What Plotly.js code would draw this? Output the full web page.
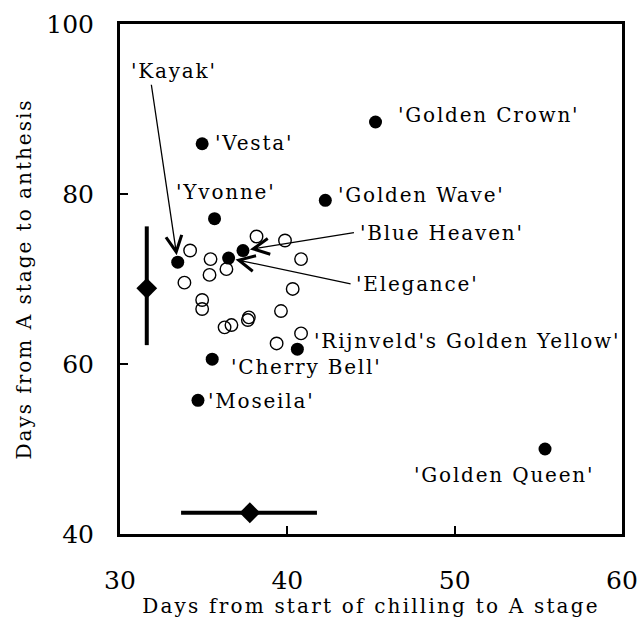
<!DOCTYPE html>
<html>
<head>
<meta charset="utf-8">
<script src="https://cdn.plot.ly/plotly-3.0.1.min.js"></script>
<style>
  html, body { margin: 0; padding: 0; background: #fff; }
  #chart { width: 641px; height: 618px; }
  .annotation-text { letter-spacing: 1.8px; }
  .xtitle { letter-spacing: 2.2px; }
  .ytitle { letter-spacing: 2px; }
</style>
</head>
<body>
<div id="chart"></div>
<script>
// Named cultivars (filled circles)
const namedCultivars = ['Kayak', 'Vesta', 'Golden Crown', 'Yvonne', 'Golden Wave', 'Blue Heaven', 'Elegance', "Rijnveld's Golden Yellow", 'Cherry Bell', 'Moseila', 'Golden Queen'];
const namedDaysToA = [33.45, 34.91, 45.27, 35.65, 42.27, 37.35, 36.49, 40.60, 35.51, 34.66, 55.40];
const namedDaysToAnthesis = [71.98, 85.91, 88.47, 77.10, 79.26, 73.35, 72.46, 61.75, 60.57, 55.73, 50.00];

// Other cultivars (open circles)
const otherDaysToA = [34.19, 35.41, 35.35, 36.36, 33.85, 38.16, 39.86, 40.82, 40.32, 34.91, 34.91, 39.62, 37.70, 37.64, 36.66, 36.25, 40.82, 39.36];
const otherDaysToAnthesis = [73.35, 72.34, 70.48, 71.16, 69.57, 75.00, 74.53, 72.34, 68.83, 67.53, 66.47, 66.23, 65.49, 65.17, 64.58, 64.31, 63.60, 62.42];

// Means with spread
const meanDaysToA = 37.76, meanDaysToAMinus = 4.11, meanDaysToAPlus = 4.01;
const meanDaysToAnthesis = 68.9, meanAnthesisMinus = 6.68, meanAnthesisPlus = 7.29;
const meanMarkerDaysToA = 31.6;        // x position of the vertical mean bar
const meanMarkerAnthesis = 42.5;       // y position of the horizontal mean bar

const xTicks = [30, 40, 50, 60];
const yTicks = [40, 60, 80, 100];
const xTitle = 'Days from start of chilling to A stage';
const yTitle = 'Days from A stage to anthesis';

const FONT = 'DejaVu Serif, Liberation Serif, serif';

const traces = [
  {
    type: 'scatter', mode: 'markers',
    x: otherDaysToA, y: otherDaysToAnthesis,
    marker: { symbol: 'circle-open', size: 12.5, color: '#000', line: { width: 1.4, color: '#000' } },
    hoverinfo: 'x+y'
  },
  {
    type: 'scatter', mode: 'markers',
    x: namedDaysToA, y: namedDaysToAnthesis, text: namedCultivars,
    marker: { symbol: 'circle', size: 13, color: '#000' },
    hoverinfo: 'text+x+y'
  },
  {
    type: 'scatter', mode: 'markers',
    x: [meanMarkerDaysToA], y: [meanDaysToAnthesis],
    error_y: { type: 'data', symmetric: false, array: [meanAnthesisPlus], arrayminus: [meanAnthesisMinus], thickness: 4, width: 0, color: '#000' },
    marker: { symbol: 'diamond', size: 16, color: '#000' }
  },
  {
    type: 'scatter', mode: 'markers',
    x: [meanDaysToA], y: [meanMarkerAnthesis],
    error_x: { type: 'data', symmetric: false, array: [meanDaysToAPlus], arrayminus: [meanDaysToAMinus], thickness: 4, width: 0, color: '#000' },
    marker: { symbol: 'diamond', size: 16, color: '#000' }
  }
];

// label placement (left edge, vertical middle) for each named cultivar
const labelSpots = {
  'Kayak': [30.54, 94.5],
  'Vesta': [35.55, 86.05],
  'Golden Crown': [46.5, 89.25],
  'Yvonne': [33.2, 80.2],
  'Golden Wave': [42.9, 79.9],
  'Blue Heaven': [44.2, 75.45],
  'Elegance': [44.0, 69.4],
  "Rijnveld's Golden Yellow": [41.5, 62.7],
  'Cherry Bell': [36.5, 59.6],
  'Moseila': [35.15, 55.7],
  'Golden Queen': [47.45, 46.9]
};

const annotations = namedCultivars.map(n => ({
  xref: 'x', yref: 'y', x: labelSpots[n][0], y: labelSpots[n][1],
  text: "'" + n + "'", showarrow: false, xanchor: 'left', yanchor: 'middle',
  font: { family: FONT, size: 20, color: '#000' }
}));

// arrows (tail position -> cultivar point)
const arrowTails = { 'Kayak': [31.86, 93.03], 'Blue Heaven': [44.07, 75.48], 'Elegance': [43.87, 69.39] };
Object.keys(arrowTails).forEach(n => {
  const i = namedCultivars.indexOf(n);
  annotations.push({
    xref: 'x', yref: 'y', axref: 'x', ayref: 'y',
    x: namedDaysToA[i], y: namedDaysToAnthesis[i],
    ax: arrowTails[n][0], ay: arrowTails[n][1],
    text: '', showarrow: true, arrowhead: 5, arrowsize: 2.4, arrowwidth: 1.3,
    arrowcolor: '#000', standoff: 7, startstandoff: 0
  });
});

const axisCommon = {
  showgrid: false, zeroline: false, showline: true, linewidth: 3, linecolor: '#000',
  mirror: true, ticks: 'inside', ticklen: 8, tickwidth: 2, tickcolor: '#000',
  tickfont: { family: FONT, size: 25, color: '#000' }
};

const layout = {
  width: 641, height: 618,
  margin: { l: 120, r: 19, t: 24, b: 84 },
  paper_bgcolor: '#fff', plot_bgcolor: '#fff',
  showlegend: false,
  xaxis: Object.assign({}, axisCommon, {
    range: [30, 60], tickvals: xTicks, ticktext: xTicks.map(String),
    ticklabelstandoff: 22,
    title: { text: xTitle, font: { family: FONT, size: 20, color: '#000' }, standoff: 4 }
  }),
  yaxis: Object.assign({}, axisCommon, {
    range: [40, 100], tickvals: yTicks, ticktext: yTicks.map(String),
    ticklabelstandoff: 18,
    title: { text: yTitle, font: { family: FONT, size: 20, color: '#000' }, standoff: 10 }
  }),
  annotations: annotations
};

Plotly.newPlot('chart', traces, layout, { displayModeBar: false, staticPlot: true });
</script>
</body>
</html>
